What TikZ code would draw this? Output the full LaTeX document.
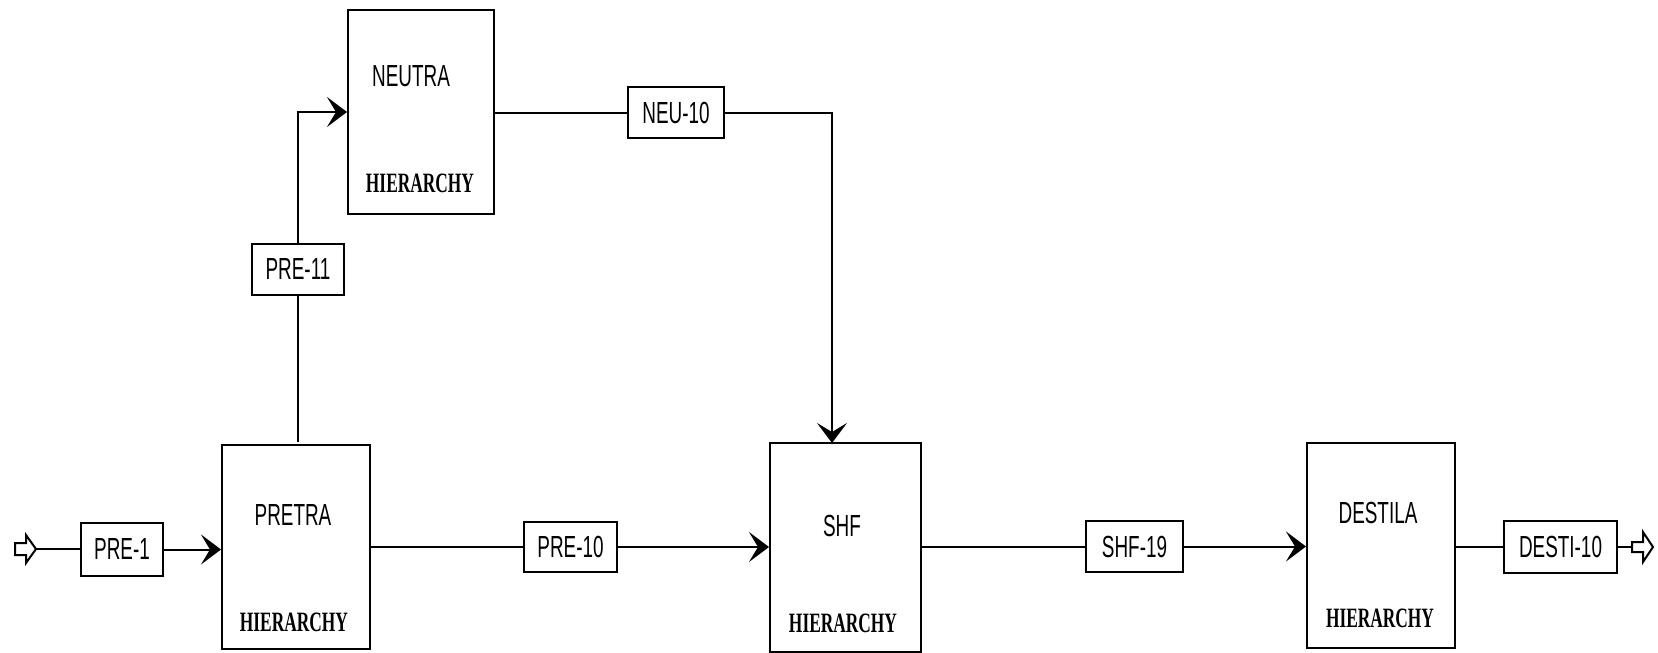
\documentclass[tikz,border=0pt]{standalone}
\usepackage{fontspec}
\usetikzlibrary{arrows.meta}
\newfontfamily\labfont[FakeStretch=0.62]{Liberation Sans}
\newfontfamily\hierfont[FakeStretch=0.62]{Liberation Serif}
\begin{document}
\begin{tikzpicture}[x=1pt,y=-1pt,
  blk/.style={draw, line width=2pt, inner sep=0pt},
  big/.style={blk, minimum width=148pt, minimum height=204pt},
  tag/.style={blk, font=\labfont\fontsize{30.5}{32}\selectfont},
  ttl/.style={inner sep=0pt, font=\labfont\fontsize{30.5}{32}\selectfont},
  hier/.style={inner sep=0pt, font=\hierfont\bfseries\fontsize{28}{30}\selectfont},
  ln/.style={line width=2pt},
  arr/.style={ln, -{Stealth[length=20pt, width=30pt, inset=9pt]}},
  openarr/.style={draw, line width=2pt, fill=white, line join=miter}]
\useasboundingbox (0,0) rectangle (1658,653);
\fill[white] (0,0) rectangle (1658,653);

% big blocks
\node[big] (pretra) at (296,547) {};
\node[big, minimum width=146pt] (neutra) at (421,112) {};
\node[big, minimum width=151pt, minimum height=209pt] (shf) at (845.5,547.5) {};
\node[big, minimum height=205pt] (destila) at (1381,545.5) {};

\node[ttl] (tpretra) at (293,515) {PRETRA};
\node[hier] (hpretra) at (294,622) {HIERARCHY};
\node[ttl] (tneutra) at (411,76) {NEUTRA};
\node[hier] (hneutra) at (420,183) {HIERARCHY};
\node[ttl] (tshf) at (842,526) {SHF};
\node[hier] (hshf) at (843,623) {HIERARCHY};
\node[ttl] (tdestila) at (1378,513) {DESTILA};
\node[hier] (hdestila) at (1380,618) {HIERARCHY};

% stream tags
\node[tag, minimum width=82pt, minimum height=53pt] (pre1) at (122,549.5) {PRE-1};
\node[tag, minimum width=93pt, minimum height=50pt] (pre10) at (570.5,547) {PRE-10};
\node[tag, minimum width=92pt, minimum height=51pt] (pre11) at (298,269.5) {PRE-11};
\node[tag, minimum width=96pt, minimum height=51pt] (neu10) at (676,112.5) {NEU-10};
\node[tag, minimum width=97pt, minimum height=51pt] (shf19) at (1134.5,546.5) {SHF-19};
\node[tag, minimum width=113pt, minimum height=52pt] (desti10) at (1560.5,547) {DESTI-10};

% feed and product open arrows
\draw[openarr] (15,543) -- (26,543) -- (26,535) -- (36,549) -- (26,563) -- (26,555) -- (15,555) -- cycle;
\coordinate (feed) at (36,549);
\draw[openarr] (1632,542) -- (1643,542) -- (1643,532) -- (1653,547) -- (1643,562) -- (1643,552) -- (1632,552) -- cycle;
\coordinate (prod) at (1632,547);

\coordinate (pretop) at (298,442);
\coordinate (shfin) at (832,443);

% connectors
\draw[ln] (feed) -- (pre1.west |- feed);
\draw[arr] (pre1.east) -- (pre1.east -| pretra.west);
\draw[ln] (pretra.east |- pre10.west) -- (pre10.west);
\draw[arr] (pre10.east) -- (pre10.east -| shf.west);
\draw[ln] (pretop) -- (pre11.south);
\draw[arr] (pre11.north) |- (neutra.west);
\draw[ln] (neutra.east |- neu10.west) -- (neu10.west);
\draw[arr] (neu10.east) -| (shfin);
\draw[ln] (shf.east |- shf19.west) -- (shf19.west);
\draw[arr] (shf19.east) -- (shf19.east -| destila.west);
\draw[ln] (destila.east |- desti10.west) -- (desti10.west);
\draw[ln] (desti10.east) -- (prod);
\end{tikzpicture}
\end{document}
